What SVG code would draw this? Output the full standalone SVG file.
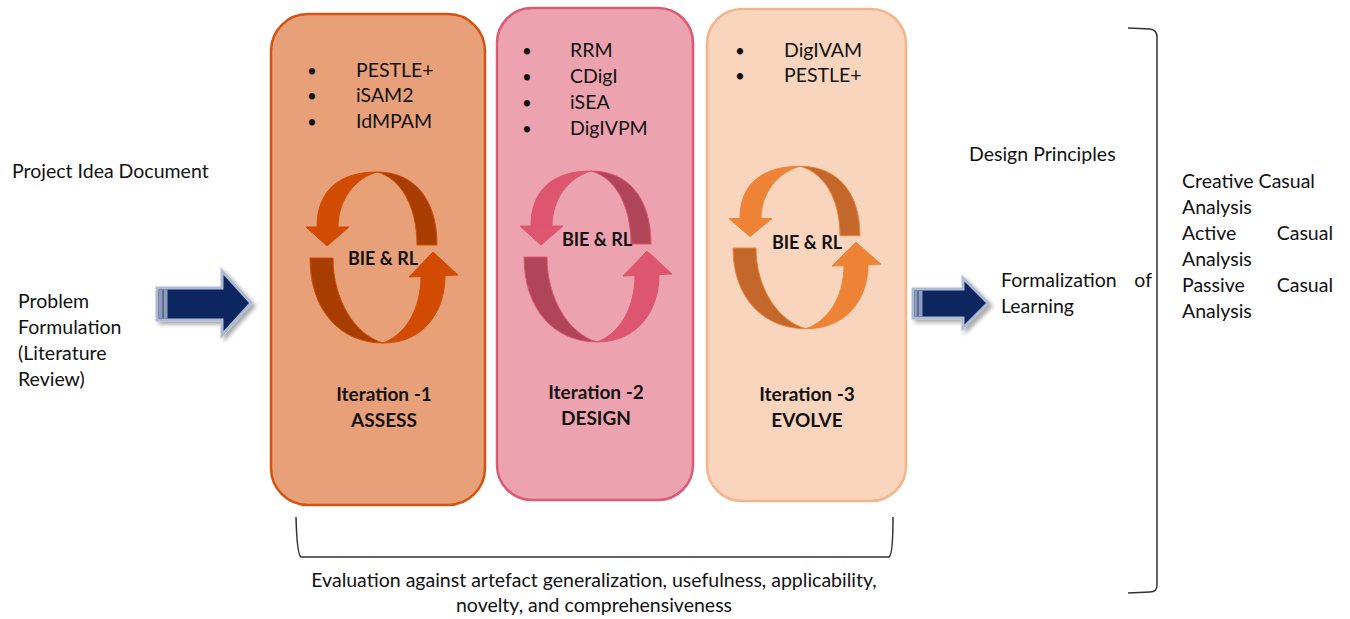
<svg xmlns="http://www.w3.org/2000/svg" width="1350" height="619" viewBox="0 0 1350 619">
  <style>
    text { font-family: Lato, "Open Sans", sans-serif; font-size: 19.5px; fill: #111; }
    .b { font-weight: bold; font-size: 19px; }
    .bie { font-weight: bold; font-size: 18px; }
    .mid { text-anchor: middle; }
    .end { text-anchor: end; }
    .dot { font-size: 17px; }
    .line { fill: none; stroke: #333; stroke-width: 1.5; }
    .blue { fill: #0E2660; stroke: #AEBBD3; stroke-width: 3; stroke-linejoin: miter; }
    .stripe { fill: #8E9DBC; }
    #iter1 .box { fill: #E8A079; stroke: #D35410; stroke-width: 2.5; }
    #iter2 .box { fill: #EDA3AF; stroke: #DC5A74; stroke-width: 2.5; }
    #iter3 .box { fill: #F9D5BE; stroke: #F5B48A; stroke-width: 2.5; }
    #iter1 .lt { fill: #D24B02; stroke: #D24B02; }
    #iter1 .dk { fill: #A83D02; stroke: #D24B02; }
    #iter2 .lt { fill: #DE5570; stroke: #DE5570; }
    #iter2 .dk { fill: #B04458; stroke: #DE5570; }
    #iter3 .lt { fill: #EE8235; stroke: #EE8235; }
    #iter3 .dk { fill: #C4672A; stroke: #EE8235; }
  </style>
  <defs>
    <filter id="shadow" x="-20%" y="-20%" width="150%" height="150%">
      <feGaussianBlur in="SourceAlpha" stdDeviation="2"/>
      <feOffset dx="3" dy="3" result="o"/>
      <feComponentTransfer><feFuncA type="linear" slope="0.35"/></feComponentTransfer>
      <feMerge><feMergeNode/><feMergeNode in="SourceGraphic"/></feMerge>
    </filter>
  </defs>

  <!-- left-hand inputs -->
  <g id="inputs">
    <text x="12" y="178">Project Idea Document</text>
    <text x="18" y="308">Problem</text>
    <text x="18" y="334">Formulation</text>
    <text x="18" y="360">(Literature</text>
    <text x="18" y="386">Review)</text>
  </g>

  <!-- iteration 1 -->
  <g id="iter1">
    <rect class="box" x="271" y="14" width="214" height="491" rx="37"/>
    <text class="dot" x="307" y="77">•</text><text x="356" y="77">PESTLE+</text>
    <text class="dot" x="307" y="102">•</text><text x="356" y="102">iSAM2</text>
    <text class="dot" x="307" y="128">•</text><text x="356" y="128">IdMPAM</text>
    <g transform="translate(383,258)" stroke-width="1">
      <path class="dk" d="M -6,-86 C 32,-86 54,-58 54,-13 L 34,-13 C 34,-53 17,-80 -6,-86 Z"/>
      <path class="lt" d="M -66,-31 C -66,-68 -43,-86 -6,-86 C -28,-80 -45,-58 -45,-31 Z"/>
      <path class="lt" d="M -77,-31 L -34,-31 L -56,-12 Z"/>
      <path class="dk" d="M -73,0 C -73,52 -43,85 0,85 C -28,77 -50,42 -50,0 Z"/>
      <path class="lt" d="M 0,85 C 42,85 62,52 62,18 L 38,18 C 38,52 22,77 0,85 Z"/>
      <path class="lt" d="M 26,19 L 75,17 L 50,-6 Z"/>
    </g>
    <text class="bie mid" x="383" y="265">BIE &amp; RL</text>
    <text class="b mid" x="384" y="401">Iteration -1</text>
    <text class="b mid" x="384" y="427">ASSESS</text>
  </g>

  <!-- iteration 2 -->
  <g id="iter2">
    <rect class="box" x="497" y="8" width="196" height="492" rx="35"/>
    <text class="dot" x="522" y="57">•</text><text x="570" y="57">RRM</text>
    <text class="dot" x="522" y="83">•</text><text x="570" y="83">CDigI</text>
    <text class="dot" x="522" y="109">•</text><text x="570" y="109">iSEA</text>
    <text class="dot" x="522" y="135">•</text><text x="570" y="135">DigIVPM</text>
    <g transform="translate(597,257)" stroke-width="1">
      <path class="dk" d="M -6,-86 C 32,-86 54,-58 54,-13 L 34,-13 C 34,-53 17,-80 -6,-86 Z"/>
      <path class="lt" d="M -66,-31 C -66,-68 -43,-86 -6,-86 C -28,-80 -45,-58 -45,-31 Z"/>
      <path class="lt" d="M -77,-31 L -34,-31 L -56,-12 Z"/>
      <path class="dk" d="M -73,0 C -73,52 -43,85 0,85 C -28,77 -50,42 -50,0 Z"/>
      <path class="lt" d="M 0,85 C 42,85 62,52 62,18 L 38,18 C 38,52 22,77 0,85 Z"/>
      <path class="lt" d="M 26,19 L 75,17 L 50,-6 Z"/>
    </g>
    <text class="bie mid" x="597" y="246">BIE &amp; RL</text>
    <text class="b mid" x="596" y="399">Iteration -2</text>
    <text class="b mid" x="596" y="425">DESIGN</text>
  </g>

  <!-- iteration 3 -->
  <g id="iter3">
    <rect class="box" x="707" y="9" width="199" height="492" rx="35"/>
    <text class="dot" x="735" y="57">•</text><text x="784" y="57">DigIVAM</text>
    <text class="dot" x="735" y="82">•</text><text x="784" y="82">PESTLE+</text>
    <g transform="translate(806,248) scale(1,0.95)" stroke-width="1">
      <path class="dk" d="M -6,-86 C 32,-86 54,-58 54,-13 L 34,-13 C 34,-53 17,-80 -6,-86 Z"/>
      <path class="lt" d="M -66,-31 C -66,-68 -43,-86 -6,-86 C -28,-80 -45,-58 -45,-31 Z"/>
      <path class="lt" d="M -77,-31 L -34,-31 L -56,-12 Z"/>
      <path class="dk" d="M -73,0 C -73,52 -43,85 0,85 C -28,77 -50,42 -50,0 Z"/>
      <path class="lt" d="M 0,85 C 42,85 62,52 62,18 L 38,18 C 38,52 22,77 0,85 Z"/>
      <path class="lt" d="M 26,19 L 75,17 L 50,-6 Z"/>
    </g>
    <text class="bie mid" x="807" y="249">BIE &amp; RL</text>
    <text class="b mid" x="807" y="401">Iteration -3</text>
    <text class="b mid" x="807" y="427">EVOLVE</text>
  </g>

  <!-- right-hand outputs -->
  <g id="outputs">
    <text x="969" y="161">Design Principles</text>
    <text x="1001" y="287">Formalization</text>
    <text class="end" x="1152" y="287">of</text>
    <text x="1001" y="313">Learning</text>
  </g>

  <g id="analysis">
    <text x="1182" y="188">Creative Casual</text>
    <text x="1182" y="214">Analysis</text>
    <text x="1182" y="240">Active</text>
    <text class="end" x="1333" y="240">Casual</text>
    <text x="1182" y="266">Analysis</text>
    <text x="1182" y="292">Passive</text>
    <text class="end" x="1333" y="292">Casual</text>
    <text x="1182" y="318">Analysis</text>
  </g>

  <g id="evaluation">
    <text class="mid" x="594" y="587">Evaluation against artefact generalization, usefulness, applicability,</text>
    <text class="mid" x="594" y="612">novelty, and comprehensiveness</text>
  </g>

  <!-- connectors: block arrows and brackets -->
  <g id="connectors">
    <g filter="url(#shadow)">
      <path class="blue" d="M 157,288 L 222,288 L 222,271 L 251,303 L 222,335 L 222,320 L 157,320 Z"/>
      <rect class="stripe" x="158.5" y="289.5" width="9" height="29"/>
      <line x1="163" y1="290" x2="163" y2="318" stroke="#2A3D70" stroke-width="1"/>
    </g>
    <g filter="url(#shadow)">
      <path class="blue" d="M 913,289 L 963,289 L 963,278 L 988,303 L 963,328 L 963,318 L 913,318 Z"/>
      <rect class="stripe" x="914.5" y="290.5" width="8" height="26"/>
      <line x1="918" y1="291" x2="918" y2="316" stroke="#2A3D70" stroke-width="1"/>
    </g>
    <path class="line" d="M 296,517 Q 297,555 301,557 L 889,557 Q 893,555 893,517"/>
    <path class="line" d="M 1128,28 L 1150,29 Q 1157,30 1157,37 L 1157,585 Q 1157,592 1150,592 L 1128,593"/>
  </g>
</svg>
